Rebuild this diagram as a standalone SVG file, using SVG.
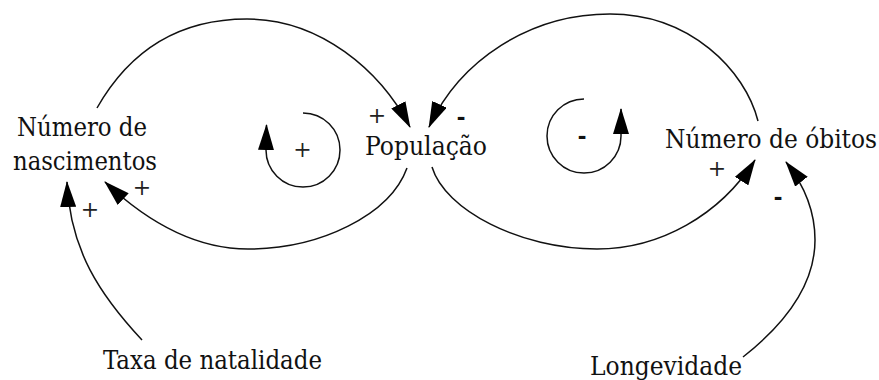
<svg xmlns="http://www.w3.org/2000/svg" width="879" height="380" viewBox="0 0 879 380">
<style>
  .lbl { font-family: 'DejaVu Serif Condensed', 'DejaVu Serif', serif; font-stretch: condensed; font-size: 26px; fill: #111; }
  .sgn { font-family: 'DejaVu Serif', serif; font-size: 22px; fill: #222; text-anchor: middle; }
  .minus { font-family: 'Liberation Sans', Arial, sans-serif; font-size: 26px; font-weight: bold; fill: #111; text-anchor: middle; }
  .link { fill: none; stroke: #111; stroke-width: 1.5; marker-end: url(#arrow); }
</style>
<defs>
  <marker id="arrow" markerUnits="userSpaceOnUse" markerWidth="26" markerHeight="16" viewBox="0 0 26 16" refX="25" refY="8" orient="auto">
    <path d="M0,0 L26,8 L0,16 z" fill="#000"/>
  </marker>
</defs>
<rect width="879" height="380" fill="#fff"/>

<g id="connectors">
  <path class="link" d="M97,108 C130,50 180,19 247,19 C320,19 380,70 410,127"/>
  <path class="link" d="M407,168 C390,215 320,249 248,249 C190,249 140,215 105,182"/>
  <path class="link" d="M758,121 C745,70 690,14 610,14 C530,14 460,60 429,127"/>
  <path class="link" d="M432,167 C445,210 520,249 597,249 C660,249 720,215 755,160"/>
  <path class="link" d="M142,340 C100,295 70,250 67,182"/>
  <path class="link" d="M743,357 C790,320 815,280 815,240 C815,215 808,190 786,162"/>
  <path class="link" d="M303,113 A37,37 0 1 1 266,150 L266.5,125"/>
  <path class="link" d="M584,99 A37,37 0 1 0 621,136 L621,109"/>
</g>

<g id="signs">
  <text class="sgn" x="377" y="123">+</text>
  <text class="sgn" x="302.5" y="157">+</text>
  <text class="sgn" x="142" y="195">+</text>
  <text class="sgn" x="90" y="217">+</text>
  <text class="sgn" x="717" y="176">+</text>
  <text class="minus" x="461" y="125">-</text>
  <text class="minus" x="582" y="144">-</text>
  <text class="minus" x="778" y="205">-</text>
</g>

<g id="node-nascimentos">
  <text class="lbl" x="17" y="136" textLength="130" lengthAdjust="spacingAndGlyphs">Número de</text>
  <text class="lbl" x="13" y="170" textLength="144" lengthAdjust="spacingAndGlyphs">nascimentos</text>
</g>
<g id="node-populacao">
  <text class="lbl" x="365" y="155" textLength="122" lengthAdjust="spacingAndGlyphs">População</text>
</g>
<g id="node-obitos">
  <text class="lbl" x="665" y="148" textLength="212" lengthAdjust="spacingAndGlyphs">Número de óbitos</text>
</g>
<g id="node-natalidade">
  <text class="lbl" x="103" y="369" textLength="219" lengthAdjust="spacingAndGlyphs">Taxa de natalidade</text>
</g>
<g id="node-longevidade">
  <text class="lbl" x="590" y="375" textLength="152" lengthAdjust="spacingAndGlyphs">Longevidade</text>
</g>
</svg>
